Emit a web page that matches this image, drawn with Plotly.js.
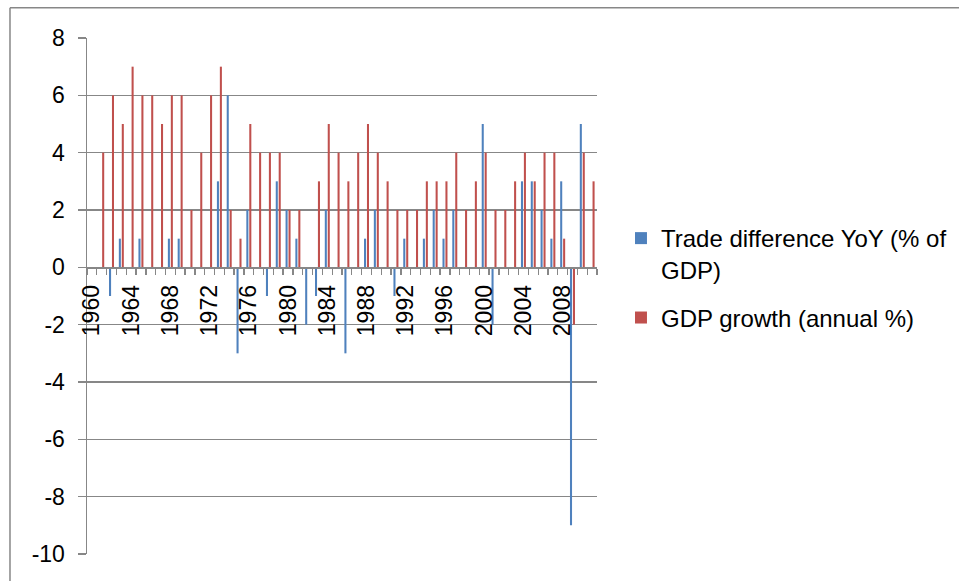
<!DOCTYPE html>
<html>
<head>
<meta charset="utf-8">
<script src="https://cdn.plot.ly/plotly-3.0.1.min.js"></script>
<style>
  html, body { margin: 0; padding: 0; background: #fff; }
  #chart { width: 959px; height: 581px; }
</style>
</head>
<body>
<div id="chart"></div>
<script>
const years = [1960,1961,1962,1963,1964,1965,1966,1967,1968,1969,
               1970,1971,1972,1973,1974,1975,1976,1977,1978,1979,
               1980,1981,1982,1983,1984,1985,1986,1987,1988,1989,
               1990,1991,1992,1993,1994,1995,1996,1997,1998,1999,
               2000,2001,2002,2003,2004,2005,2006,2007,2008,2009,
               2010,2011];
const tradeDiff = [0,0,-1,1,0,1,0,0,1,1,
                   0,0,0,3,6,-3,2,0,-1,3,
                   2,1,-2,-1,2,0,-3,0,1,2,
                   0,-1,1,0,1,2,1,2,0,0,
                   5,-2,0,0,3,3,2,1,3,-9,
                   5,0];
const gdpGrowth = [0,4,6,5,7,6,6,5,6,6,
                   2,4,6,7,2,1,5,4,4,4,
                   2,2,0,3,5,4,3,4,5,4,
                   3,2,2,2,3,3,3,4,2,3,
                   4,2,2,3,4,3,4,4,1,-2,
                   4,3];
const seriesNames = ["Trade difference YoY (% of<br>GDP)", "GDP growth (annual %)"];
const xTickVals = [1960,1964,1968,1972,1976,1980,1984,1988,1992,1996,2000,2004,2008];
const xTickText = ["1960","1964","1968","1972","1976","1980","1984","1988","1992","1996","2000","2004","2008"];
const yTickVals = [8,6,4,2,0,-2,-4,-6,-8,-10];
const yTickText = ["8","6","4","2","0","-2","-4","-6","-8","-10"];

const gray = '#878787';
const font = {family: 'Liberation Sans, Arial, sans-serif', size: 23, color: '#000'};
const legendFont = {family: 'Liberation Sans, Arial, sans-serif', size: 24, color: '#000'};

const traces = [
  {type: 'bar', x: years, y: tradeDiff, name: seriesNames[0], legendgroup: 'a',
   marker: {color: '#4F81BD', line: {width: 0}}},
  {type: 'bar', x: years, y: gdpGrowth, name: seriesNames[1], legendgroup: 'b',
   marker: {color: '#C0504D', line: {width: 0}}}
];

const layout = {
  width: 959, height: 581,
  margin: {l: 87, r: 362, t: 38, b: 27, pad: 0, autoexpand: false},
  paper_bgcolor: '#fff', plot_bgcolor: '#fff',
  font: font,
  barmode: 'group', bargap: 0.4, bargroupgap: 0.3,
  showlegend: true,
  legend: {x: 1.047, xanchor: 'left', y: 0.655, yanchor: 'top',
           font: legendFont, valign: 'top', tracegroupgap: 14, bgcolor: 'rgba(0,0,0,0)'},
  xaxis: {
    type: 'linear', range: [1959.5, 2011.5],
    anchor: 'free', position: 10/18,
    showgrid: false, zeroline: false,
    showline: true, linecolor: gray, linewidth: 1.5,
    tickmode: 'array', tickvals: xTickVals, ticktext: xTickText,
    tickangle: -90, ticks: 'outside', ticklen: 0, ticklabelstandoff: 7,
    tickfont: font,
    minor: {tick0: 1959.5, dtick: 1, ticks: 'outside', ticklen: 6, tickcolor: gray, tickwidth: 1.3, showgrid: false}
  },
  yaxis: {
    range: [-10, 8],
    tickmode: 'array', tickvals: yTickVals, ticktext: yTickText,
    showgrid: true, gridcolor: gray, gridwidth: 1.5,
    zeroline: false,
    showline: true, linecolor: gray, linewidth: 1.5,
    ticks: 'outside', ticklen: 8, tickcolor: gray, tickwidth: 1.5,
    ticklabelstandoff: 8,
    tickfont: font
  },
  shapes: [
    {type: 'line', xref: 'paper', yref: 'paper', x0: -0.151, x1: 1.8, y0: 1.0585, y1: 1.0585,
     line: {color: gray, width: 1.5}},
    {type: 'line', xref: 'paper', yref: 'paper', x0: -0.151, x1: -0.151, y0: 1.0585, y1: -0.2,
     line: {color: gray, width: 1.5}}
  ]
};

Plotly.newPlot('chart', traces, layout, {displayModeBar: false, staticPlot: true});
</script>
</body>
</html>
